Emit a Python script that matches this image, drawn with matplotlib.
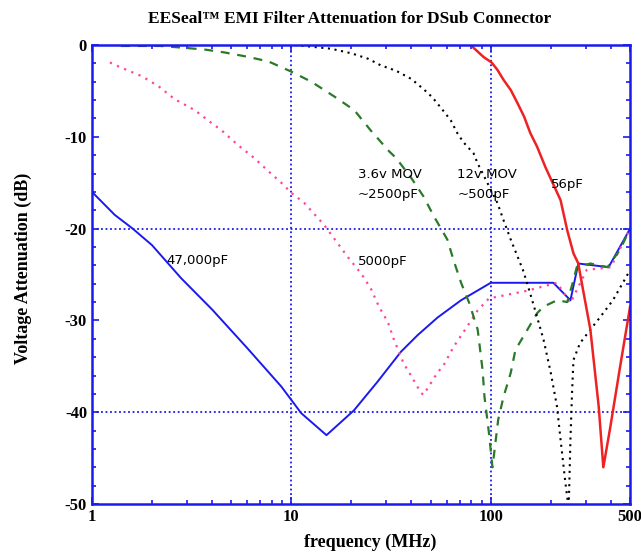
import numpy as np
import matplotlib.pyplot as plt
from matplotlib.ticker import FixedLocator, NullFormatter, MultipleLocator

plt.rcParams['axes.unicode_minus'] = False

# curve data (frequency in MHz, attenuation in dB)
f_47000 = [1, 1.3, 1.6, 2, 2.8, 4, 6, 8.9, 11.2, 15, 20.6, 27, 35.5, 43, 54, 71, 100, 206, 251, 275, 390, 500]
db_47000 = [-16, -18.5, -20, -21.8, -25.4, -28.8, -33, -37.2, -40.1, -42.5, -39.8, -36.7, -33.4, -31.6, -29.7, -27.8, -25.9, -25.9, -27.8, -23.8, -24.2, -20]

f_5000 = [1.23, 1.38, 1.78, 2.16, 2.6, 3.28, 3.98, 4.47, 5.4, 6.5, 7.9, 8.9, 10, 11.6, 14.6, 19.2, 22.4, 25, 27.5, 30.5, 32.7,
          36.6, 39.8, 44.7, 46, 54, 58, 65, 76, 86, 98, 150, 215, 251, 303, 400, 500]
db_5000 = [-1.9, -2.4, -3.4, -4.5, -5.9, -7.1, -8.5, -9.3, -10.9, -12.3, -14, -15, -16.1, -17.2, -19.6, -23.1, -24.9, -26.5, -28.5, -30.2, -32.1,
           -34.7, -36, -37.9, -38.1, -35.7, -34.9, -32.9, -30.7, -28.9, -27.6, -26.8, -25.9, -28.1, -24.5, -24.2, -20]

f_mov36 = [1.4, 2.2, 2.9, 3.7, 4.6, 6.1, 7.7, 10, 12.6, 16.4, 20.7, 25, 31, 33.5, 40, 46, 52, 60.6, 65, 71, 78, 86, 91, 93, 98, 102,
           109, 116, 126, 133, 149, 171, 184, 215, 242, 260, 270, 316, 385, 445, 500]
db_mov36 = [-0.1, -0.1, -0.3, -0.5, -0.8, -1.3, -1.8, -2.9, -4.0, -5.6, -7.1, -9.3, -11.6, -12.3, -14.5, -16.5, -18.7, -21.2, -23.4, -25.9, -28.1, -31, -35.4, -38.3, -42.3, -46,
            -40.8, -38.3, -35.7, -33.2, -31.4, -29.2, -28.5, -27.8, -28, -25.6, -24.2, -23.8, -24.2, -22.3, -20]

f_mov12 = [10.4, 15.8, 20, 24.3, 28, 33.5, 40, 46, 51, 58, 63, 68, 73, 82, 86, 108, 116, 126, 145, 152, 167, 184, 200, 215, 224, 236, 246,
           251, 256, 260, 280, 316, 355, 410, 460, 500]
db_mov12 = [0, -0.4, -0.9, -1.5, -2.2, -2.8, -3.7, -4.8, -5.7, -7.2, -8.2, -9.6, -10.6, -11.8, -12.9, -17.2, -19.1, -21.2, -24.5, -25.9, -28.9, -32.1, -35.7, -39.4, -43, -47.4, -50.5,
            -43, -37.6, -34.3, -32.5, -31, -29.6, -27.8, -25.9, -24.5]

f_56 = [80, 82, 92, 101, 108, 116, 126, 136, 147, 158, 171, 188, 224, 242, 260, 275, 280, 316, 348, 367, 398, 445, 500]
db_56 = [0, -0.3, -1.3, -1.9, -2.7, -3.8, -4.9, -6.3, -7.8, -9.6, -11.1, -13.3, -16.9, -20.2, -22.7, -23.8, -24.8, -31, -39.4, -46, -41.6, -35.1, -28.5]

blue = '#1a1aee'

fig = plt.figure(figsize=(6.41, 5.56), dpi=100)
ax = fig.add_axes([0.1435, 0.0935, 0.8395, 0.8255])

ax.axvline(10, color=blue, ls=(0, (1, 1.5)), lw=1.3, zorder=1)
ax.axvline(100, color=blue, ls=(0, (1, 1.5)), lw=1.3, zorder=1)
ax.axhline(-20, color=blue, ls=(0, (1, 1.5)), lw=1.3, zorder=1)
ax.axhline(-40, color=blue, ls=(0, (1, 1.5)), lw=1.3, zorder=1)

ax.plot(f_47000, db_47000, color=blue, lw=1.4)
ax.plot(f_5000, db_5000, color='#ff4499', lw=1.6, ls=(0, (1, 2.5)))
ax.plot(f_mov36, db_mov36, color='#2a7a2a', lw=1.6, ls=(0, (4, 3.5)))
ax.plot(f_mov12, db_mov12, color='black', lw=1.5, ls=(0, (1, 2.2)))
ax.plot(f_56, db_56, color='#ee2222', lw=1.8)

ax.set_xscale('log')
ax.set_xlim(1, 500)
ax.set_ylim(-50, 0)

ax.xaxis.set_major_locator(FixedLocator([1, 10, 100, 500]))
ax.set_xticklabels(['1', '10', '100', '500'])
minors = [m * d for d in (1, 10, 100) for m in range(2, 10) if m * d < 500]
ax.xaxis.set_minor_locator(FixedLocator(minors))
ax.xaxis.set_minor_formatter(NullFormatter())
ax.yaxis.set_major_locator(MultipleLocator(10))
ax.yaxis.set_minor_locator(MultipleLocator(2))

ax.tick_params(which='both', direction='in', color=blue, top=True, right=True, width=1.2)
ax.tick_params(which='major', length=5)
ax.tick_params(which='minor', length=3)
for lbl in ax.get_xticklabels() + ax.get_yticklabels():
    lbl.set_family('Liberation Serif')
    lbl.set_fontweight('bold')
    lbl.set_fontsize(12)
for sp in ax.spines.values():
    sp.set_color(blue)
    sp.set_linewidth(1.8)

serif = dict(family='Liberation Serif', fontweight='bold')
fig.text(0.546, 0.965, 'EESeal\u2122 EMI Filter Attenuation for DSub Connector', fontsize=12.5,
         ha='center', va='center', **serif)
ax.set_xlabel('frequency (MHz)', fontsize=13, **serif)
ax.xaxis.set_label_coords(0.517, -0.065)
ax.set_ylabel('Voltage Attenuation (dB)', fontsize=13, **serif)
ax.yaxis.set_label_coords(-0.112, 0.514)

lab = dict(fontsize=9.5, family='DejaVu Sans', va='center', ha='left')
ax.text(2.37, -23.5, '47,000pF', **lab)
ax.text(21.5, -23.6, '5000pF', **lab)
ax.text(21.5, -14.1, '3.6v MOV', **lab)
ax.text(21.5, -16.3, '~2500pF', **lab)
ax.text(68, -14.1, '12v MOV', **lab)
ax.text(68, -16.3, '~500pF', **lab)
ax.text(200, -15.2, '56pF', **lab)

fig.savefig('out.png', dpi=100)
